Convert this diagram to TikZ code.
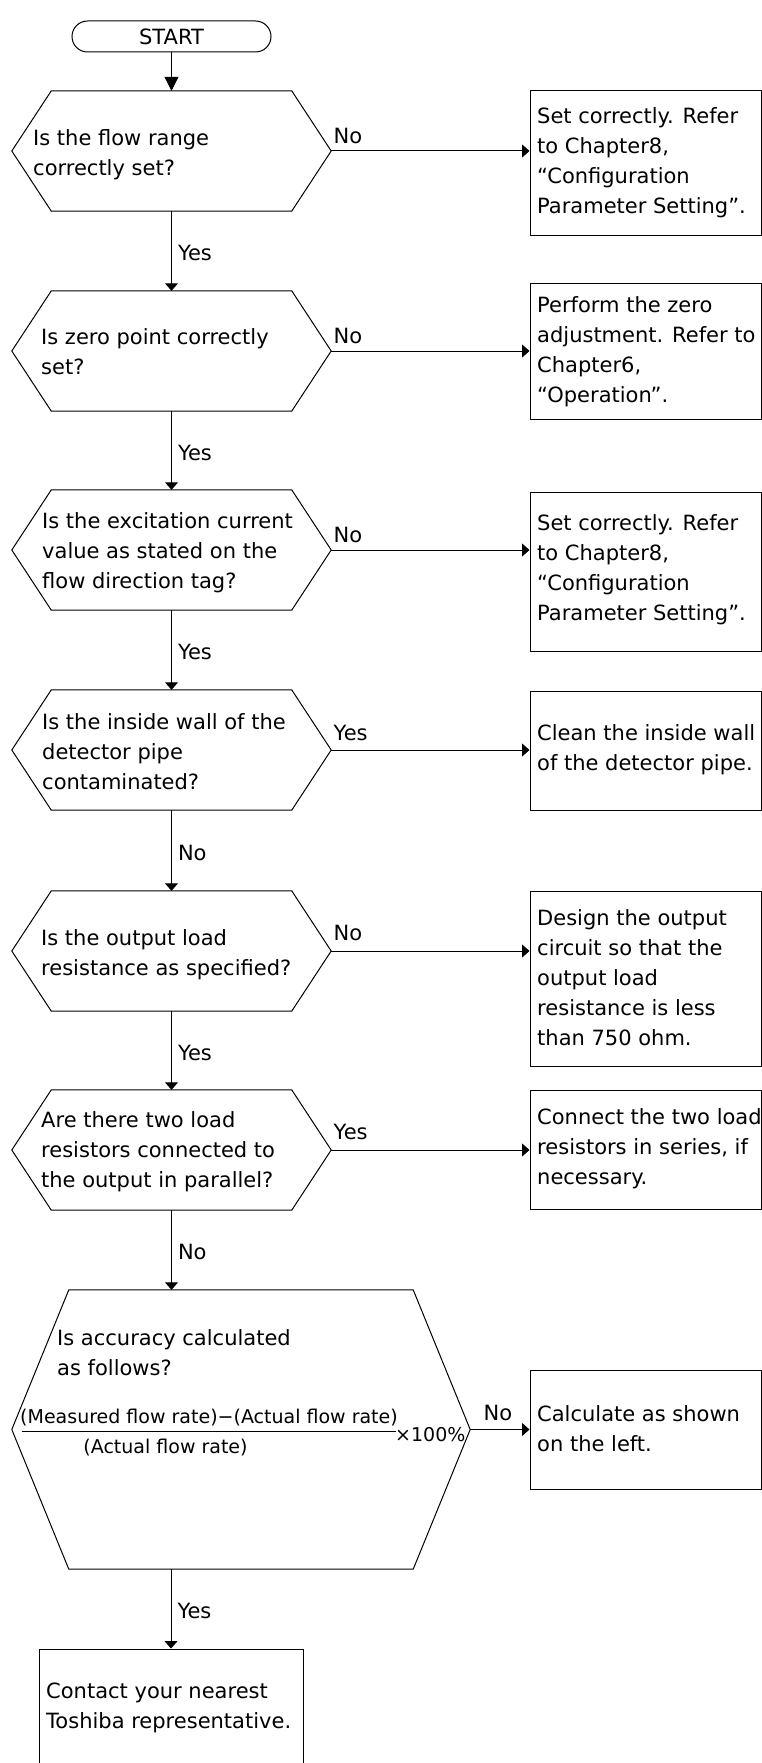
\documentclass[tikz,border=0pt]{standalone}
\usepackage{fontspec}
\setmainfont{DejaVu Sans}
\usetikzlibrary{arrows.meta}

\newcommand\mainfs{\fontsize{21pt}{30pt}\selectfont}
\newcommand\smallfs{\fontsize{19pt}{24pt}\selectfont}

% hexagonal decision outline drawn on the anchors of an invisible frame node
\newcommand\hexoutline[2]{%
  \draw[flow] ([xshift=#2]#1.north west) -- ([xshift=-#2]#1.north east) -- (#1.east)
    -- ([xshift=-#2]#1.south east) -- ([xshift=#2]#1.south west) -- (#1.west) -- cycle;}

\tikzset{
  flow/.style={line width=1pt, draw=black},
  arr/.style={flow, -{Triangle[length=7.5pt,width=13pt]}},
  startbox/.style={draw, line width=1pt, rounded corners=15.5pt, minimum width=199pt,
    minimum height=31pt, inner sep=0pt, font=\mainfs},
  hexframe/.style={draw=none, inner sep=0pt, minimum width=319pt, minimum height=120pt},
  actbox/.style={draw, line width=1pt, inner sep=0pt, minimum width=231pt},
  txt/.style={anchor=west, align=left, inner sep=0pt, font=\mainfs},
  lbl/.style={anchor=west, inner sep=0pt, font=\mainfs},
}

\begin{document}
\begin{tikzpicture}[x=1pt,y=-1pt]
\fill[white] (0,0) rectangle (762,1763);
\useasboundingbox (0,0) rectangle (762,1763);

% start
\node[startbox] (s) at (171.5,36.5) {START};

% decisions
\node[hexframe] (q1) at (171.5,151) {};
\hexoutline{q1}{39.5pt}
\node[txt] (q1t) at (33,155) {Is the flow range\\correctly set?};

\node[hexframe] (q2) at (171.5,351) {};
\hexoutline{q2}{39.5pt}
\node[txt] (q2t) at (41,352) {Is zero point correctly\\set?};

\node[hexframe] (q3) at (171.5,550) {};
\hexoutline{q3}{39.5pt}
\node[txt] (q3t) at (42,553) {Is the excitation current\\value as stated on the\\flow direction tag?};

\node[hexframe] (q4) at (171.5,750) {};
\hexoutline{q4}{39.5pt}
\node[txt] (q4t) at (42,752) {Is the inside wall of the\\detector pipe\\contaminated?};

\node[hexframe] (q5) at (171.5,951) {};
\hexoutline{q5}{39.5pt}
\node[txt] (q5t) at (41,955) {Is the output load\\resistance as specified?};

\node[hexframe] (q6) at (171.5,1150) {};
\hexoutline{q6}{39.5pt}
\node[txt] (q6t) at (41,1152) {Are there two load\\resistors connected to\\the output in parallel?};

\node[hexframe, minimum width=458pt, minimum height=279pt] (q7) at (241,1429.5) {};
\hexoutline{q7}{57pt}
\node[txt] (q7t) at (57,1353) {Is accuracy calculated\\as follows?};
\node[inner sep=0pt, font=\smallfs] (num) at (209,1418) {(Measured flow rate)−(Actual flow rate)};
\draw[flow] ([xshift=2pt,yshift=-5pt]num.south west) -- ([xshift=-2pt,yshift=-5pt]num.south east);
\node[inner sep=0pt, font=\smallfs] (den) at (165.5,1448) {(Actual flow rate)};
\node[inner sep=0pt, anchor=west, font=\smallfs] (pct) at (395,1435) {×100\%};

% actions
\node[actbox, minimum height=144pt] (a1) at (645.5,163) {};
\node[txt] (a1t) at (537,163) {Set correctly. Refer\\to Chapter8,\\“Configuration\\Parameter Setting”.};

\node[actbox, minimum height=136pt] (a2) at (645.5,351) {};
\node[txt] (a2t) at (537,352) {Perform the zero\\adjustment. Refer to\\Chapter6,\\“Operation”.};

\node[actbox, minimum height=159pt] (a3) at (645.5,571.5) {};
\node[txt] (a3t) at (537,570) {Set correctly. Refer\\to Chapter8,\\“Configuration\\Parameter Setting”.};

\node[actbox, minimum height=119pt] (a4) at (645.5,750.5) {};
\node[txt] (a4t) at (537,750) {Clean the inside wall\\of the detector pipe.};

\node[actbox, minimum height=175pt] (a5) at (645.5,978.5) {};
\node[txt] (a5t) at (537,978) {Design the output\\circuit so that the\\output load\\resistance is less\\than 750 ohm.};

\node[actbox, minimum height=119pt] (a6) at (645.5,1149.5) {};
\node[txt] (a6t) at (537,1149) {Connect the two load\\resistors in series, if\\necessary.};

\node[actbox, minimum height=119pt] (a7) at (645.5,1429.5) {};
\node[txt] (a7t) at (537,1429) {Calculate as shown\\on the left.};

\node[actbox, minimum width=264pt, minimum height=118pt] (z) at (171,1708) {};
\node[txt] (zt) at (46,1708) {Contact your nearest\\Toshiba representative.};

% main flow
\draw[flow, -{Triangle[length=14pt,width=14pt]}] (s.south) -- (q1.north);
\draw[arr] (q1.south) -- node[lbl, xshift=6pt, yshift=-2pt] {Yes} (q2.north);
\draw[arr] (q2.south) -- node[lbl, xshift=6pt, yshift=-2pt] {Yes} (q3.north);
\draw[arr] (q3.south) -- node[lbl, xshift=6pt, yshift=-2pt] {Yes} (q4.north);
\draw[arr] (q4.south) -- node[lbl, xshift=6pt, yshift=-2pt] {No} (q5.north);
\draw[arr] (q5.south) -- node[lbl, xshift=6pt, yshift=-2pt] {Yes} (q6.north);
\draw[arr] (q6.south) -- node[lbl, xshift=6pt, yshift=-2pt] {No} (q6.south |- q7.north);
\draw[arr] (q7.south -| z.north) -- node[lbl, xshift=6pt, yshift=-2pt] {Yes} (z.north);

% side branches
\draw[arr] (q1.east) -- node[lbl, pos=0, xshift=2pt, yshift=15pt] {No} (q1.east -| a1.west);
\draw[arr] (q2.east) -- node[lbl, pos=0, xshift=2pt, yshift=15pt] {No} (q2.east -| a2.west);
\draw[arr] (q3.east) -- node[lbl, pos=0, xshift=2pt, yshift=15pt] {No} (q3.east -| a3.west);
\draw[arr] (q4.east) -- node[lbl, pos=0, xshift=2pt, yshift=17pt] {Yes} (q4.east -| a4.west);
\draw[arr] (q5.east) -- node[lbl, pos=0, xshift=2pt, yshift=18pt] {No} (q5.east -| a5.west);
\draw[arr] (q6.east) -- node[lbl, pos=0, xshift=2pt, yshift=18pt] {Yes} (q6.east -| a6.west);
\draw[arr] (q7.east) -- node[lbl, pos=0, xshift=13pt, yshift=17pt] {No} (q7.east -| a7.west);
\end{tikzpicture}
\end{document}
